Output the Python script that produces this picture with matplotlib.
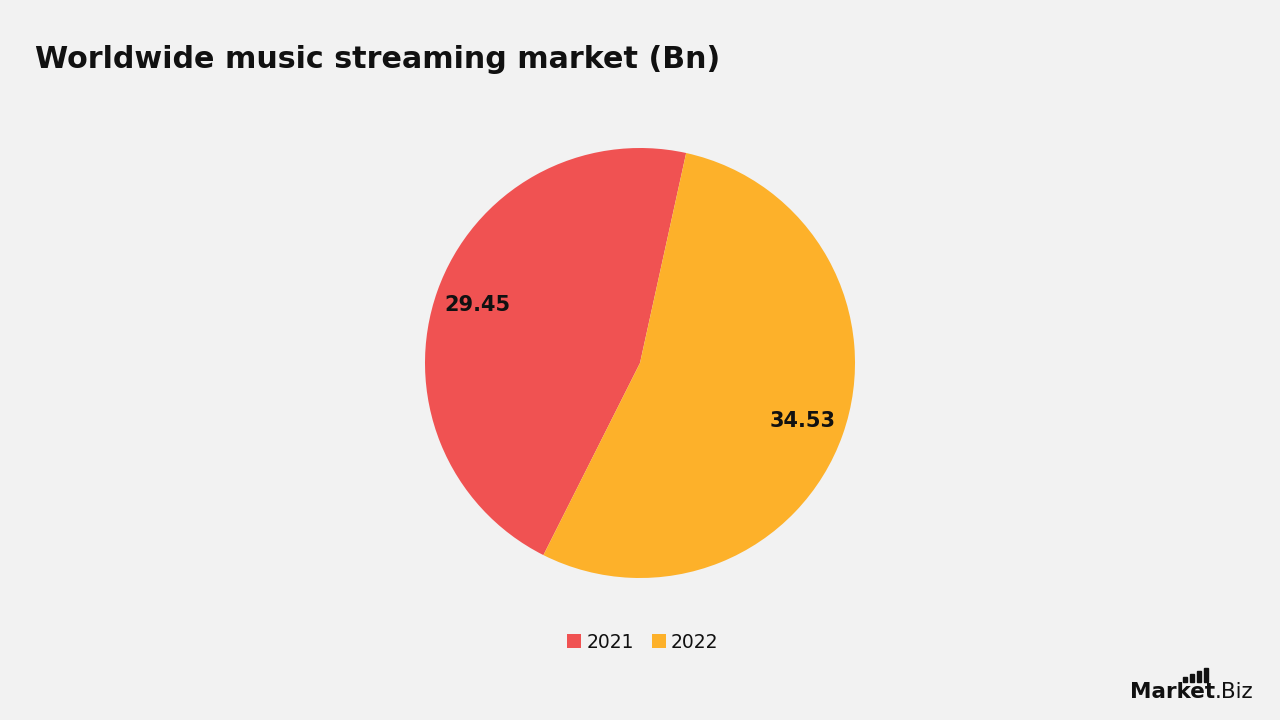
import matplotlib
matplotlib.use("Agg")
import matplotlib.pyplot as plt
from matplotlib.patches import Rectangle

years = ["2021", "2022"]
values = [29.45, 34.53]
colors = ["#F05252", "#FDB12A"]
title = "Worldwide music streaming market (Bn)"

BG = "#F2F2F2"
fig = plt.figure(figsize=(12.8, 7.2), dpi=100, facecolor=BG)

cx, cy, r = 640, 363, 215
ax = fig.add_axes([(cx - r) / 1280, (720 - cy - r) / 720, 2 * r / 1280, 2 * r / 720])
ax.set_facecolor(BG)
wedges, texts, autotexts = ax.pie(
    values, colors=colors, startangle=77.6, counterclock=True,
    autopct=lambda p: f"{p * sum(values) / 100:.2f}", pctdistance=0.8,
    wedgeprops=dict(linewidth=0),
    textprops=dict(fontsize=15, fontweight="bold", color="#111111", family="DejaVu Sans"))
ax.set_xlim(-1, 1)
ax.set_ylim(-1, 1)
ax.set_aspect("equal")
ax.axis("off")

fig.text(35 / 1280, 1 - 59 / 720, title, fontsize=21.7, fontweight="bold",
         family="DejaVu Sans", va="center", ha="left", color="#111111")

leg = fig.legend(wedges, years, loc="center", bbox_to_anchor=(643 / 1280, 1 - 642 / 720),
                 ncol=2, frameon=False, handlelength=0.75, handleheight=0.75,
                 handletextpad=0.25, columnspacing=1.0,
                 prop=dict(family="DejaVu Sans", size=13.5))
for t in leg.get_texts():
    t.set_color("#111111")

# logo
t1 = fig.text(1130 / 1280, 1 - 692 / 720, "Market", fontsize=15.5, fontweight="bold",
              family="DejaVu Sans", va="center", ha="left", color="#111111")
fig.canvas.draw()
bb = t1.get_window_extent()
fig.text(bb.x1 / 1280, 1 - 692 / 720, ".Biz", fontsize=15.5, family="DejaVu Sans",
         va="center", ha="left", color="#111111")
bars_x = [1183, 1190, 1197, 1204]
bars_h = [5, 8, 11, 14]
for bx, bh in zip(bars_x, bars_h):
    fig.patches.append(Rectangle((bx / 1280, (720 - 682) / 720), 3.5 / 1280, bh / 720,
                                 transform=fig.transFigure, color="#111111"))

fig.savefig("out.png", dpi=100, facecolor=BG)
